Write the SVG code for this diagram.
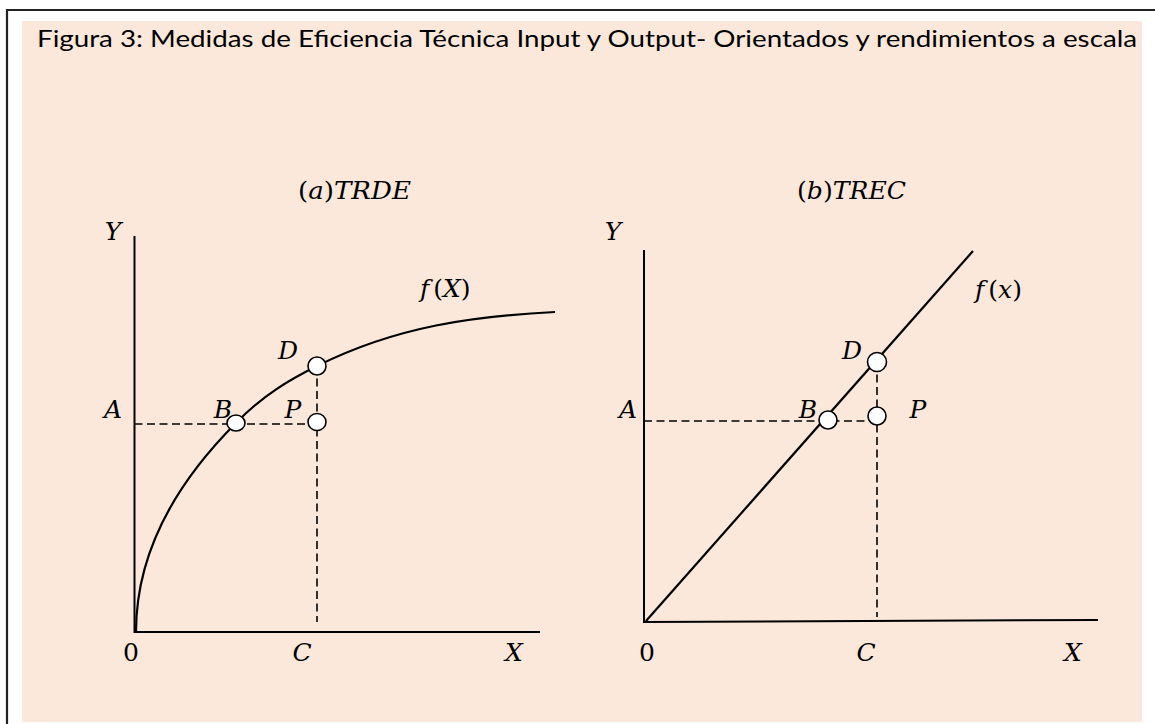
<svg xmlns="http://www.w3.org/2000/svg" width="1155" height="724" viewBox="0 0 1155 724">
<style>
.ax{stroke:#000;stroke-width:2;fill:none}
.cv{stroke:#000;stroke-width:2.2;fill:none}
.ds{stroke:#000;stroke-width:1.6;fill:none;stroke-dasharray:8 4.5}
.pt{fill:#fff;stroke:#000;stroke-width:1.6}
.m{font-family:"DejaVu Serif","Liberation Serif",serif;font-style:italic;font-size:25px;fill:#000;text-anchor:middle}
.u{font-style:normal}
.ttl{font-family:Lato,"Liberation Sans",sans-serif;font-size:24px;fill:#000}
</style>
<rect x="0" y="0" width="1155" height="724" fill="#fff"/>
<rect x="22" y="21" width="1120" height="701" fill="#FCE8DA"/>
<path d="M7 724 V10 H1155" stroke="#222" stroke-width="2.2" fill="none"/>
<text class="ttl" x="37" y="47" textLength="1100" lengthAdjust="spacingAndGlyphs">Figura 3: Medidas de Eficiencia Técnica Input y Output- Orientados y rendimientos a escala</text>

<g id="panel-a-title"><text class="m" x="298" y="199" style="text-anchor:start" textLength="113" lengthAdjust="spacingAndGlyphs"><tspan class="u">(</tspan>a<tspan class="u">)</tspan>TRDE</text></g>
<g id="panel-b-title"><text class="m" x="797" y="199" style="text-anchor:start" textLength="109" lengthAdjust="spacingAndGlyphs"><tspan class="u">(</tspan>b<tspan class="u">)</tspan>TREC</text></g>

<g id="connectors">
  <path class="ax" d="M134.5 236 V632 H540"/>
  <path class="ds" d="M134.5 424 H317"/>
  <path class="ds" d="M317 366 V622"/>
  <path class="cv" d="M136 632 C136 540 190 469 236 423 C263 395 290 379.5 317 366 C397 326 475 316 555 312"/>
  <path class="ax" d="M644 250 V622 L1098 620"/>
  <path class="ds" d="M644 421 H877"/>
  <path class="ds" d="M877 362 V617"/>
  <path class="cv" d="M646 621 L973 251"/>
</g>

<g id="left-axes-labels">
  <text class="m" x="113" y="240">Y</text>
  <text class="m" x="113" y="418">A</text>
  <text class="m u" x="131" y="661">0</text>
  <text class="m" x="302" y="661">C</text>
  <text class="m" x="514" y="661">X</text>
  <text class="m" x="420" y="297" style="text-anchor:start">f<tspan class="u" dx="4">(</tspan>X<tspan class="u">)</tspan></text>
</g>
<g id="node-aB"><ellipse class="pt" cx="236" cy="423" rx="9" ry="8"/><text class="m" x="223" y="418">B</text></g>
<g id="node-aD"><circle class="pt" cx="317" cy="366" r="9"/><text class="m" x="288" y="359">D</text></g>
<g id="node-aP"><ellipse class="pt" cx="317" cy="422" rx="9" ry="8.5"/><text class="m" x="293" y="418">P</text></g>

<g id="right-axes-labels">
  <text class="m" x="613" y="240">Y</text>
  <text class="m" x="628" y="418">A</text>
  <text class="m u" x="647" y="661">0</text>
  <text class="m" x="866" y="661">C</text>
  <text class="m" x="1073" y="661">X</text>
  <text class="m" x="975" y="298" style="text-anchor:start">f<tspan class="u" dx="4">(</tspan>x<tspan class="u">)</tspan></text>
</g>
<g id="node-bB"><circle class="pt" cx="828" cy="420" r="9"/><text class="m" x="808" y="418">B</text></g>
<g id="node-bD"><circle class="pt" cx="877" cy="362" r="9.5"/><text class="m" x="852" y="359">D</text></g>
<g id="node-bP"><circle class="pt" cx="877" cy="416" r="9"/><text class="m" x="918" y="418">P</text></g>
</svg>
